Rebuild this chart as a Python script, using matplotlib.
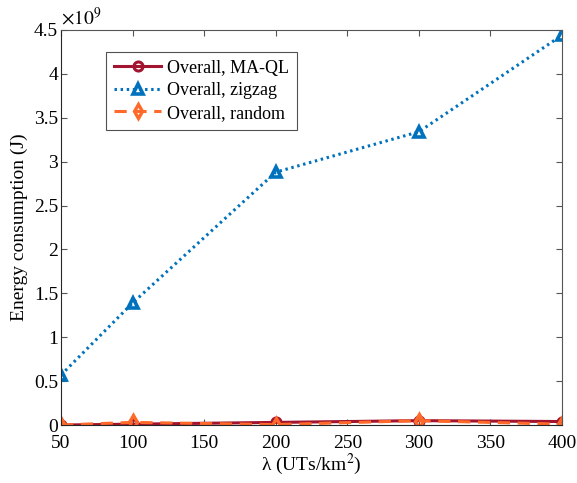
import matplotlib.pyplot as plt
from matplotlib.ticker import FuncFormatter

plt.rcParams['font.family'] = ['Liberation Serif', 'DejaVu Serif']
plt.rcParams['mathtext.fontset'] = 'stix'

lam = [50, 100, 200, 300, 400]
maql = [0.0, 0.01e9, 0.03e9, 0.05e9, 0.04e9]
zigzag = [0.57e9, 1.39e9, 2.88e9, 3.34e9, 4.44e9]
rand = [0.0, 0.03e9, 0.005e9, 0.05e9, 0.01e9]

scale = 1e9

fig = plt.figure(figsize=(5.77, 4.83), dpi=100)
ax = fig.add_axes([0.1057, 0.120, 0.8683, 0.818])

ax.plot(lam, [v / scale for v in maql], color='#A2142F', lw=2.2, marker='o',
        ms=6.5, mfc='none', mew=2.2, label='Overall, MA-QL')
ax.plot(lam, [v / scale for v in zigzag], color='#0072BD', lw=2.2,
        ls=(0, (0.8, 1.2)), marker='^', ms=7.5, mfc='none', mew=2.6,
        label='Overall, zigzag')
ax.plot(lam, [v / scale for v in rand], color='#FF6929', lw=2.2, ls=(0, (4, 2.5)),
        marker='d', ms=7.5, mfc='none', mew=2.4, label='Overall, random')

ax.set_xlim(50, 400)
ax.set_ylim(0, 4.5)
ax.set_xticks(range(50, 401, 50))
ax.set_yticks([i * 0.5 for i in range(10)])
ax.yaxis.set_major_formatter(FuncFormatter(lambda v, p: f'{v:g}'))
ax.tick_params(direction='in', labelsize=14, top=True, right=True, length=4,
               color='#555555', width=0.8)
ax.tick_params(axis='x', pad=7)
ax.tick_params(axis='y', pad=2)
for s in ax.spines.values():
    s.set_linewidth(0.8)
    s.set_color('#555555')
ax.spines['left'].set_color('#262626')
ax.spines['bottom'].set_color('#262626')

ax.text(0.0, 1.003, r'$\times 10^{9}$', transform=ax.transAxes, fontsize=14,
        ha='left', va='bottom')

ax.set_xlabel('λ (UTs/km$^2$)', fontsize=14, labelpad=0)
ax.set_ylabel('Energy consumption (J)', fontsize=14, labelpad=4)

leg = ax.legend(loc='upper left', bbox_to_anchor=(0.09, 0.945), fontsize=13,
                frameon=True, fancybox=False, edgecolor='#262626',
                handlelength=2.6, borderpad=0.45, labelspacing=0.3,
                handletextpad=0.3, borderaxespad=0)
leg.get_frame().set_linewidth(0.8)

fig.savefig('out.png', dpi=100)
